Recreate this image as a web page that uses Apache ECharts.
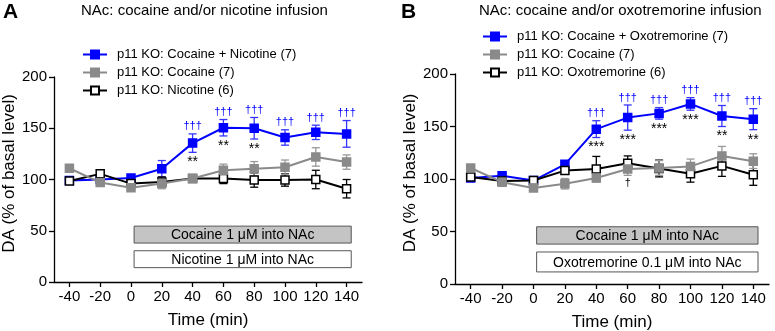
<!DOCTYPE html>
<html>
<head>
<meta charset="utf-8">
<script src="https://cdn.jsdelivr.net/npm/echarts@6/dist/echarts.min.js"></script>
<style>
  html, body { margin: 0; padding: 0; background: #fff; }
  #chart { width: 775px; height: 331px; }
</style>
</head>
<body>
<div id="chart"></div>
<script>
// time points (min) and axis ticks
const times = [-40, -20, 0, 20, 40, 60, 80, 100, 120, 140];
const xTicks = [-40, -20, 0, 20, 40, 60, 80, 100, 120, 140];

// panel A: cocaine and/or nicotine
const cocNicMean = [99, 100, 101.5, 110.5, 135.5, 150.5, 150, 141, 146, 144.5];
const cocNicErr = [2, 2, 3, 8, 9, 8, 10.5, 7.5, 7, 13];
const cocAMean = [111, 97, 92, 96, 101, 109, 110.5, 112, 122, 117];
const cocAErr = [2, 3, 3, 5, 3, 6, 7, 7, 9, 7];
const nicMean = [98.5, 105.5, 96, 97.5, 101, 101, 99.5, 99.5, 100, 91];
const nicErr = [2, 2, 3, 5, 3, 5, 7, 6, 9, 9];

// panel B: cocaine and/or oxotremorine
const cocOxoMean = [101, 103, 98.5, 114, 147.5, 158.5, 162.5, 171.5, 160, 157];
const cocOxoErr = [2, 2, 2, 3, 8, 12, 5.5, 6, 10, 10];
const cocBMean = [110.5, 97, 91.5, 95.5, 101, 109.5, 110.5, 112, 122, 117];
const cocBErr = [2, 3, 3, 5, 3, 6, 7, 7, 9, 7];
const oxoMean = [102, 98, 98.5, 108, 109.5, 115, 110, 105, 112.5, 104];
const oxoErr = [2, 2, 2, 3, 12, 7, 8, 8, 10, 10];

// significance marks: [time, text]
const daggersA = [[40, '†††'], [60, '†††'], [80, '†††'], [100, '†††'], [120, '†††'], [140, '†††']];
const starsA = [[40, '**'], [60, '**'], [80, '**']];
const daggersB = [[40, '†††'], [60, '†††'], [80, '†††'], [100, '†††'], [120, '†††'], [140, '†††']];
const starsB = [[40, '***'], [60, '***'], [80, '***'], [100, '***'], [120, '**'], [140, '**']];
const daggersBCoc = [[60, '†']];

// infusion bars
const infusionA = ['Cocaine 1 μM into NAc', 'Nicotine 1 μM into NAc'];
const infusionB = ['Cocaine 1 μM into NAc', 'Oxotremorine 0.1 μM into NAc'];
const infusionTime = [2, 143];

const names = {
  cocNic: 'p11 KO: Cocaine + Nicotine (7)',
  coc: 'p11 KO: Cocaine (7)',
  nic: 'p11 KO: Nicotine (6)',
  cocOxo: 'p11 KO: Cocaine + Oxotremorine (7)',
  oxo: 'p11 KO: Oxotremorine (6)'
};

const BLUE = '#0000ff';
const GREY = '#8a8a8a';
const FONT = 'Arial, "Liberation Sans", Helvetica, sans-serif';

const chart = echarts.init(document.getElementById('chart'), null, { renderer: 'canvas' });

function pairs(mean) {
  return times.map((t, i) => [t, mean[i]]);
}

function lineSeries(name, mean, idx, color, fill, z) {
  return {
    name: name,
    type: 'line',
    xAxisIndex: idx,
    yAxisIndex: idx,
    data: pairs(mean),
    symbol: 'rect',
    symbolSize: 8,
    z: z,
    lineStyle: { color: color, width: 2 },
    itemStyle: { color: fill, borderColor: color, borderWidth: 1.5 },
    emphasis: { disabled: true },
    animation: false
  };
}

function errSeries(mean, err, idx, color, z) {
  return {
    type: 'custom',
    xAxisIndex: idx,
    yAxisIndex: idx,
    z: z,
    silent: true,
    animation: false,
    data: times.map((t, i) => [t, mean[i] - err[i], mean[i] + err[i]]),
    renderItem: function (params, api) {
      const lo = api.coord([api.value(0), api.value(1)]);
      const hi = api.coord([api.value(0), api.value(2)]);
      const w = 4;
      const style = { stroke: color, lineWidth: 1.3 };
      return {
        type: 'group',
        children: [
          { type: 'line', shape: { x1: lo[0], y1: lo[1], x2: hi[0], y2: hi[1] }, style: style },
          { type: 'line', shape: { x1: lo[0] - w, y1: lo[1], x2: lo[0] + w, y2: lo[1] }, style: style },
          { type: 'line', shape: { x1: hi[0] - w, y1: hi[1], x2: hi[0] + w, y2: hi[1] }, style: style }
        ]
      };
    }
  };
}

// marks placed above (dir=1) or below (dir=-1) the error bar of a series
function markSeries(marks, mean, err, idx, color, dir, size, gap) {
  return {
    type: 'custom',
    xAxisIndex: idx,
    yAxisIndex: idx,
    z: 10,
    silent: true,
    animation: false,
    data: marks.map(m => {
      const i = times.indexOf(m[0]);
      return [m[0], dir > 0 ? mean[i] + err[i] : mean[i] - err[i], m[1]];
    }),
    renderItem: function (params, api) {
      const p = api.coord([api.value(0), api.value(1)]);
      return {
        type: 'text',
        style: {
          text: api.value(2),
          x: p[0],
          y: p[1] - dir * gap,
          align: 'center',
          verticalAlign: dir > 0 ? 'bottom' : 'top',
          fill: color,
          font: size + 'px ' + FONT
        }
      };
    }
  };
}

function boxSeries(labels, idx) {
  const bands = [[38, 54.5, '#c4c4c4'], [14, 30.5, '#ffffff']];
  return {
    type: 'custom',
    xAxisIndex: idx,
    yAxisIndex: idx,
    z: 1,
    silent: true,
    animation: false,
    data: labels.map((l, i) => [i]),
    renderItem: function (params, api) {
      const i = api.value(0);
      const b = bands[i];
      const y0 = idx === 1 && i === 1 ? 11.5 : b[0];
      const a = api.coord([infusionTime[0], b[1]]);
      const c = api.coord([infusionTime[1], y0]);
      return {
        type: 'group',
        children: [
          {
            type: 'rect',
            shape: { x: a[0], y: a[1], width: c[0] - a[0], height: c[1] - a[1] },
            style: { fill: b[2], stroke: '#555', lineWidth: 1 }
          },
          {
            type: 'text',
            style: {
              text: labels[i],
              x: (a[0] + c[0]) / 2,
              y: (a[1] + c[1]) / 2 + 1,
              align: 'center',
              verticalAlign: 'middle',
              fill: '#000',
              font: '14px ' + FONT
            }
          }
        ]
      };
    }
  };
}

function xAxis(idx) {
  return {
    type: 'value',
    gridIndex: idx,
    min: -50,
    max: 150,
    name: 'Time (min)',
    nameLocation: 'middle',
    nameGap: 30,
    nameTextStyle: { fontSize: 17, color: '#000', fontFamily: FONT },
    splitLine: { show: false },
    axisLine: { onZero: false, lineStyle: { color: '#000', width: 1.3 } },
    axisTick: { length: 5, customValues: xTicks, lineStyle: { color: '#000', width: 1.3 } },
    axisLabel: { customValues: xTicks, fontSize: 15, color: '#000', fontFamily: FONT, margin: 7 }
  };
}

function yAxis(idx) {
  return {
    type: 'value',
    gridIndex: idx,
    min: 0,
    max: 200,
    interval: 50,
    name: 'DA (% of basal level)',
    nameLocation: 'middle',
    nameRotate: 90,
    nameGap: 36,
    nameTextStyle: { fontSize: 17, color: '#000', fontFamily: FONT, padding: [0, 0, 0, 12] },
    splitLine: { show: false },
    axisLine: { show: true, onZero: false, lineStyle: { color: '#000', width: 1.3 } },
    axisTick: { show: true, length: 5, lineStyle: { color: '#000', width: 1.3 } },
    axisLabel: { fontSize: 15, color: '#000', fontFamily: FONT, margin: 7 }
  };
}

const legendBase = {
  orient: 'vertical',
  itemWidth: 24,
  itemHeight: 10,
  itemGap: 5,
  selectedMode: false,
  textStyle: { fontSize: 13, color: '#000', fontFamily: FONT, padding: [0, 0, 0, 5] }
};

const option = {
  animation: false,
  textStyle: { fontFamily: FONT },
  grid: [
    { left: 54, right: 413, top: 77, bottom: 49, outerBoundsMode: 'none' },
    { left: 455, right: 6, top: 74, bottom: 47, outerBoundsMode: 'none' }
  ],
  xAxis: [xAxis(0), xAxis(1)],
  yAxis: [yAxis(0), yAxis(1)],
  legend: [
    Object.assign({}, legendBase, { left: 77, top: 43, data: [names.cocNic, names.coc, names.nic] }),
    Object.assign({}, legendBase, { left: 477, top: 25, data: [names.cocOxo, names.coc, names.oxo] })
  ],
  graphic: [
    { type: 'text', left: 3, top: 2, style: { text: 'A', font: 'bold 21px ' + FONT, fill: '#000' } },
    { type: 'text', left: 81, top: 3, style: { text: 'NAc: cocaine and/or nicotine infusion', font: '15px ' + FONT, fill: '#000' } },
    { type: 'text', left: 401, top: 2, style: { text: 'B', font: 'bold 21px ' + FONT, fill: '#000' } },
    { type: 'text', left: 479, top: 3, style: { text: 'NAc: cocaine and/or oxotremorine infusion', font: '15px ' + FONT, fill: '#000' } }
  ],
  series: [
    boxSeries(infusionA, 0),
    boxSeries(infusionB, 1),

    errSeries(cocNicMean, cocNicErr, 0, '#3535ff', 2),
    errSeries(nicMean, nicErr, 0, '#000', 2),
    errSeries(cocAMean, cocAErr, 0, '#999', 2),
    lineSeries(names.cocNic, cocNicMean, 0, BLUE, BLUE, 3),
    lineSeries(names.nic, nicMean, 0, '#000', '#fff', 4),
    lineSeries(names.coc, cocAMean, 0, GREY, GREY, 5),

    errSeries(cocOxoMean, cocOxoErr, 1, '#3535ff', 2),
    errSeries(oxoMean, oxoErr, 1, '#000', 2),
    errSeries(cocBMean, cocBErr, 1, '#999', 2),
    lineSeries(names.cocOxo, cocOxoMean, 1, BLUE, BLUE, 3),
    lineSeries(names.oxo, oxoMean, 1, '#000', '#fff', 4),
    lineSeries(names.coc, cocBMean, 1, GREY, GREY, 5),

    markSeries(daggersA, cocNicMean, cocNicErr, 0, BLUE, 1, 11, 2),
    markSeries(starsA, cocNicMean, cocNicErr, 0, '#000', -1, 14, 3),
    markSeries(daggersB, cocOxoMean, cocOxoErr, 1, BLUE, 1, 11, 2),
    markSeries(starsB, cocOxoMean, cocOxoErr, 1, '#000', -1, 14, 3),
    markSeries(daggersBCoc, cocBMean, cocBErr, 1, '#000', -1, 11, 2)
  ]
};

chart.setOption(option);
</script>
</body>
</html>
